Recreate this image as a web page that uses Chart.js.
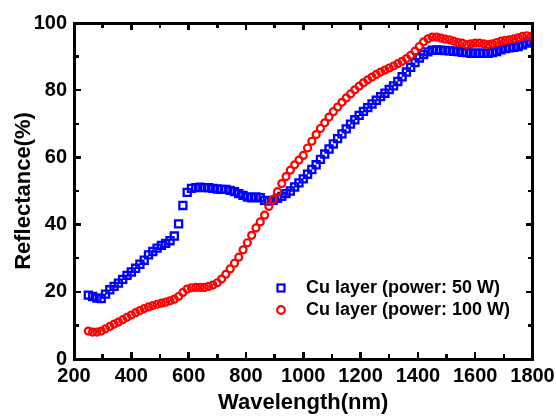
<!DOCTYPE html>
<html>
<head>
<meta charset="utf-8">
<script src="https://cdn.jsdelivr.net/npm/chart.js@4.4.0/dist/chart.umd.min.js"></script>
<style>
  html, body { margin: 0; padding: 0; background: #fff; }
  #wrap { width: 556px; height: 416px; position: relative; }
  #overlay { position: absolute; left: 0; top: 0; width: 556px; height: 416px; pointer-events: none; z-index: 2; }
  #overlay div { position: absolute; box-sizing: border-box; }
</style>
</head>
<body>
<div id="wrap"><canvas id="reflectance"></canvas><div id="overlay"></div></div>
<script>
const wavelength = [250, 265, 280, 295, 310, 325, 340, 355, 370, 385, 400, 415, 430, 445, 460, 475, 490, 505, 520, 535,
  550, 565, 580, 595, 610, 625, 640, 655, 670, 685, 700, 715, 730, 745, 760, 775, 790, 805, 820, 835,
  850, 865, 880, 895, 910, 925, 940, 955, 970, 985, 1000, 1015, 1030, 1045, 1060, 1075, 1090, 1105, 1120, 1135,
  1150, 1165, 1180, 1195, 1210, 1225, 1240, 1255, 1270, 1285, 1300, 1315, 1330, 1345, 1360, 1375, 1390, 1405, 1420, 1435,
  1450, 1465, 1480, 1495, 1510, 1525, 1540, 1555, 1570, 1585, 1600, 1615, 1630, 1645, 1660, 1675, 1690, 1705, 1720, 1735,
  1750, 1765, 1780, 1795];

// Cu layer, 50 W (blue squares)
const reflect50W = [19.0, 18.6, 18.1, 18.0, 19.3, 20.6, 21.6, 22.6, 23.7, 24.9, 25.9, 27.0, 28.2, 29.4, 31.0, 32.0, 33.0, 33.8, 34.4, 35.2,
  36.6, 40.2, 45.7, 49.6, 50.8, 51.0, 51.1, 51.0, 51.0, 50.8, 50.6, 50.5, 50.5, 50.2, 49.8, 49.2, 48.7, 48.2, 48.0, 48.2,
  48.0, 47.2, 47.0, 47.2, 47.8, 48.4, 49.2, 50.0, 51.2, 52.4, 53.6, 55.0, 56.4, 57.8, 59.4, 61.0, 62.5, 64.0, 65.6, 67.0,
  68.5, 69.9, 71.2, 72.5, 73.7, 74.8, 75.9, 77.0, 78.1, 79.1, 80.2, 81.3, 82.6, 84.0, 85.4, 86.8, 88.2, 89.6, 90.6, 91.4,
  91.9, 92.0, 91.9, 91.8, 91.7, 91.6, 91.5, 91.3, 91.2, 91.0, 91.0, 91.0, 91.0, 91.0, 91.2, 91.5, 92.0, 92.4, 92.6, 92.8,
  93.0, 93.5, 94.0, 94.3];

// Cu layer, 100 W (red circles)
const reflect100W = [8.3, 8.0, 8.0, 8.3, 9.0, 9.7, 10.4, 11.0, 11.7, 12.4, 13.1, 13.8, 14.4, 15.0, 15.5, 15.9, 16.3, 16.6, 16.9, 17.3,
  17.8, 18.6, 19.8, 20.8, 21.2, 21.3, 21.3, 21.3, 21.6, 22.0, 22.7, 23.8, 25.2, 26.8, 28.5, 30.3, 32.5, 34.6, 36.8, 39.0,
  40.8, 42.8, 45.4, 47.5, 49.8, 52.2, 54.3, 56.2, 57.8, 59.2, 60.6, 62.8, 64.8, 66.8, 68.6, 70.3, 72.0, 73.6, 75.0, 76.4,
  77.7, 78.9, 80.1, 81.2, 82.2, 83.1, 83.9, 84.7, 85.4, 86.0, 86.6, 87.2, 87.9, 88.6, 89.4, 90.4, 91.6, 93.0, 94.4, 95.3,
  95.8, 95.8, 95.5, 95.2, 95.0, 94.6, 94.2, 94.0, 93.6, 93.8, 94.0, 94.0, 93.8, 93.6, 93.8, 94.2, 94.6, 94.8, 95.0, 95.3,
  95.6, 96.0, 96.2, 96.0];

const xTickLabels = [200, 400, 600, 800, 1000, 1200, 1400, 1600, 1800];
const xMinorTicks = [300, 500, 700, 900, 1100, 1300, 1500, 1700];
const yTickLabels = [0, 20, 40, 60, 80, 100];
const yMinorTicks = [10, 30, 50, 70, 90];
const seriesNames = ['Cu layer (power: 50 W)', 'Cu layer (power: 100 W)'];

const BLUE = '#0000ff';
const RED = '#ff0000';
const NOFILL = 'rgba(255,255,255,0)';
const FONT = "'Liberation Sans', Arial, sans-serif";

const toPoints = ys => wavelength.map((w, i) => ({ x: w, y: ys[i] }));

// frame box and inward ticks on all four sides, laid over the canvas from the chart's scales
const frameOverlay = {
  id: 'frameOverlay',
  afterRender(chart) {
    const xs = chart.scales.x, ys = chart.scales.y;
    const L = xs.getPixelForValue(200), R = xs.getPixelForValue(1800);
    const T = ys.getPixelForValue(100), B = ys.getPixelForValue(0);
    const box = (l, t, w, h, css) =>
      `<div style="left:${l}px;top:${t}px;width:${w}px;height:${h}px;${css}"></div>`;
    const black = 'background:#000';
    let html = '';
    xTickLabels.concat(xMinorTicks).forEach(v => {
      const px = xs.getPixelForValue(v);
      const len = xTickLabels.includes(v) ? 7 : 5;
      html += box(px - 1.25, B - len, 2.5, len, black);
      html += box(px - 1.25, T, 2.5, len, black);
    });
    yTickLabels.concat(yMinorTicks).forEach(v => {
      const py = ys.getPixelForValue(v);
      const len = yTickLabels.includes(v) ? 7 : 5;
      html += box(L, py - 1.25, len, 2.5, black);
      html += box(R - len, py - 1.25, len, 2.5, black);
    });
    html += box(L - 1.5, T - 1.5, R - L + 3, B - T + 3, 'border:3px solid #000');
    document.getElementById('overlay').innerHTML = html;
  }
};

// legend placed inside the plot, lower right
const innerLegend = {
  id: 'innerLegend',
  afterDraw(chart) {
    const ctx = chart.ctx;
    const a = chart.chartArea;
    const mx = a.left + 207, tx = a.left + 232;
    const rows = [a.top + 265, a.top + 287];
    ctx.save();
    ctx.lineWidth = 2.2;
    ctx.strokeStyle = BLUE;
    ctx.strokeRect(mx - 3.5, rows[0] - 3.5, 7, 7);
    ctx.strokeStyle = RED;
    ctx.beginPath();
    ctx.arc(mx, rows[1], 3.8, 0, Math.PI * 2);
    ctx.stroke();
    ctx.fillStyle = '#000';
    ctx.font = 'bold 18px ' + FONT;
    ctx.textBaseline = 'middle';
    ctx.textAlign = 'left';
    seriesNames.forEach((s, i) => ctx.fillText(s, tx, rows[i]));
    ctx.restore();
  }
};

new Chart(document.getElementById('reflectance'), {
  type: 'scatter',
  data: {
    datasets: [
      {
        label: seriesNames[0],
        data: toPoints(reflect50W),
        pointStyle: 'rect',
        pointRadius: 5,
        pointBorderWidth: 2.3,
        borderColor: BLUE,
        backgroundColor: NOFILL,
        order: 1
      },
      {
        label: seriesNames[1],
        data: toPoints(reflect100W),
        pointStyle: 'circle',
        pointRadius: 3.5,
        pointBorderWidth: 2.2,
        borderColor: RED,
        backgroundColor: NOFILL,
        order: 0
      }
    ]
  },
  options: {
    responsive: true,
    maintainAspectRatio: false,
    animation: false,
    layout: { padding: { top: 23, right: 23.5, left: 0, bottom: 0 } },
    plugins: { legend: { display: false }, tooltip: { enabled: false } },
    scales: {
      x: {
        type: 'linear',
        min: 200,
        max: 1800,
        afterBuildTicks: s => { s.ticks = xTickLabels.map(v => ({ value: v })); },
        afterFit: s => { s.height = 57; s.paddingLeft = 0; s.paddingRight = 0; },
        grid: { display: false, drawTicks: false },
        border: { display: false },
        ticks: { color: '#000', padding: 5, maxRotation: 0, autoSkip: false,
          callback: v => String(v),
          font: { family: FONT, size: 20, weight: 'bold' } },
        title: { display: true, text: 'Wavelength(nm)', color: '#000',
          padding: { top: 0, bottom: 0 }, font: { family: FONT, size: 22, weight: 'bold' } }
      },
      y: {
        min: 0,
        max: 100,
        afterBuildTicks: s => { s.ticks = yTickLabels.map(v => ({ value: v })); },
        afterFit: s => { s.width = 74; s.paddingTop = 0; s.paddingBottom = 0; },
        grid: { display: false, drawTicks: false },
        border: { display: false },
        ticks: { color: '#000', padding: 7, callback: v => String(v),
          font: { family: FONT, size: 20, weight: 'bold' } },
        title: { display: true, text: 'Reflectance(%)', color: '#000',
          padding: { top: 11, bottom: 0 }, font: { family: FONT, size: 22, weight: 'bold' } }
      }
    }
  },
  plugins: [frameOverlay, innerLegend]
});
</script>
</body>
</html>
